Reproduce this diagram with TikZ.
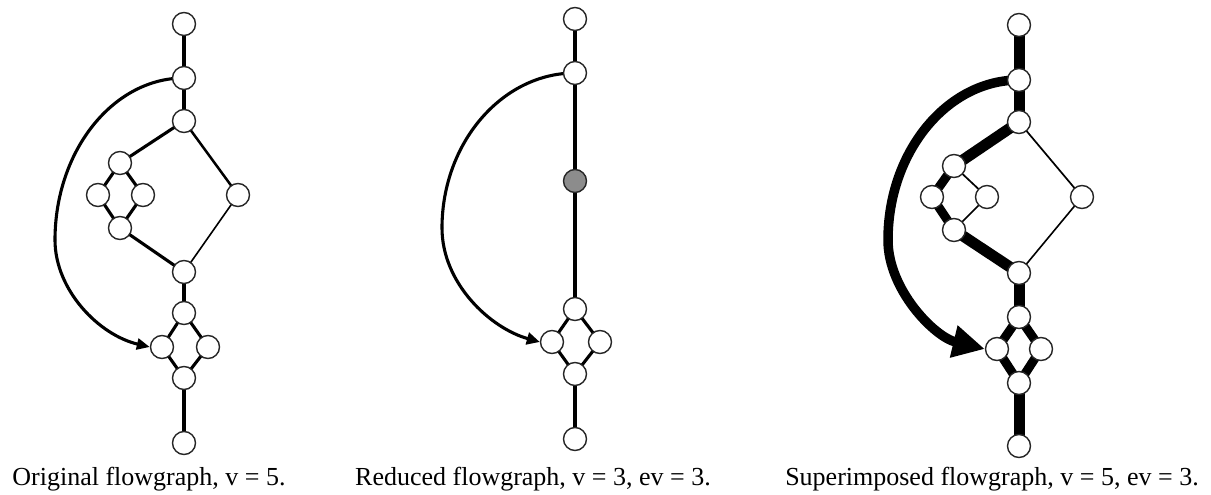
\documentclass[tikz,border=0pt]{standalone}
\usepackage{fontspec}
\setmainfont{Liberation Serif}
\usetikzlibrary{arrows.meta,backgrounds}
\begin{document}
\begin{tikzpicture}[x=1pt,y=-1pt,
  vtx/.style={circle,draw=black!85,fill=white,line width=1.4pt,minimum size=23pt,inner sep=0pt},
  gvtx/.style={vtx,fill=black!45},
  wA/.style={line width=4.3pt},
  wB/.style={line width=3.1pt},
  wC/.style={line width=2.5pt},
  wD/.style={line width=1.6pt},
  wX/.style={line width=11pt},
  wY/.style={line width=9pt},
  wT/.style={line width=1.7pt},
  captext/.style={font=\fontsize{26}{30}\selectfont,anchor=base,inner sep=0pt}]
\useasboundingbox (0,0) rectangle (1211,495);
% ---------- graph 1
\node[vtx] (n1) at (184,24) {};
\node[vtx] (n2) at (184,78) {};
\node[vtx] (n3) at (184,121) {};
\node[vtx] (n4) at (120,163) {};
\node[vtx] (n5) at (98,195) {};
\node[vtx] (n6) at (143,195) {};
\node[vtx] (n7) at (120,228) {};
\node[vtx] (n8) at (238,195) {};
\node[vtx] (n9) at (184,272) {};
\node[vtx] (n10) at (184,313) {};
\node[vtx] (n11) at (162,347) {};
\node[vtx] (n12) at (208,347) {};
\node[vtx] (n13) at (184,378) {};
\node[vtx] (n14) at (184,443) {};
\coordinate (l1) at (55,240);
% ---------- graph 2
\node[vtx] (m1) at (575,19) {};
\node[vtx] (m2) at (575,73) {};
\node[gvtx] (m3) at (575,181) {};
\node[vtx] (m4) at (575,309) {};
\node[vtx] (m5) at (552,342) {};
\node[vtx] (m6) at (600,342) {};
\node[vtx] (m7) at (575,374) {};
\node[vtx] (m8) at (575,439) {};
\coordinate (l2) at (442,228);
% ---------- graph 3
\node[vtx] (p1) at (1019,25) {};
\node[vtx] (p2) at (1019,80) {};
\node[vtx] (p3) at (1019,122) {};
\node[vtx] (p4) at (954,166) {};
\node[vtx] (p5) at (932,197) {};
\node[vtx] (p6) at (987,197) {};
\node[vtx] (p7) at (954,230) {};
\node[vtx] (p8) at (1082,197) {};
\node[vtx] (p9) at (1019,273) {};
\node[vtx] (p10) at (1019,317) {};
\node[vtx] (p11) at (997,349) {};
\node[vtx] (p12) at (1041,349) {};
\node[vtx] (p13) at (1019,383) {};
\node[vtx] (p14) at (1019,446) {};
\coordinate (l3) at (888,240);
\begin{pgfonlayer}{background}
% graph 1 edges
\draw[wA] (n1.center) -- (n2.center);
\draw[wA] (n2.center) -- (n3.center);
\draw[wB] (n3.center) -- (n4.center);
\draw[wB] (n4.center) -- (n5.center);
\draw[wB] (n4.center) -- (n6.center);
\draw[wB] (n5.center) -- (n7.center);
\draw[wB] (n6.center) -- (n7.center);
\draw[wB] (n7.center) -- (n9.center);
\draw[wC] (n3.center) -- (n8.center);
\draw[wD] (n8.center) -- (n9.center);
\draw[wA] (n9.center) -- (n10.center);
\draw[wB] (n10.center) -- (n11.center);
\draw[wB] (n10.center) -- (n12.center);
\draw[wB] (n11.center) -- (n13.center);
\draw[wB] (n12.center) -- (n13.center);
\draw[wA] (n13.center) -- (n14.center);
\draw[wB] (n2.center) .. controls +(-71,0) and +(0,-89) .. (l1);
% graph 2 edges
\draw[wB] (m1.center) -- (m2.center);
\draw[wB] (m2.center) -- (m3.center);
\draw[wB] (m3.center) -- (m4.center);
\draw[wB] (m4.center) -- (m5.center);
\draw[wB] (m4.center) -- (m6.center);
\draw[wB] (m5.center) -- (m7.center);
\draw[wB] (m6.center) -- (m7.center);
\draw[wB] (m7.center) -- (m8.center);
\draw[wB] (m2.center) .. controls +(-73,0) and +(0,-85) .. (l2);
% graph 3 edges
\draw[wX] (p1.center) -- (p2.center);
\draw[wX] (p2.center) -- (p3.center);
\draw[wX] (p3.center) -- (p4.center);
\draw[wY] (p4.center) -- (p5.center);
\draw[wT] (p4.center) -- (p6.center);
\draw[wY] (p5.center) -- (p7.center);
\draw[wT] (p6.center) -- (p7.center);
\draw[wX] (p7.center) -- (p9.center);
\draw[wT] (p3.center) -- (p8.center);
\draw[wD] (p8.center) -- (p9.center);
\draw[wX] (p9.center) -- (p10.center);
\draw[wY] (p10.center) -- (p11.center);
\draw[wY] (p10.center) -- (p12.center);
\draw[wY] (p11.center) -- (p13.center);
\draw[wY] (p12.center) -- (p13.center);
\draw[wX] (p13.center) -- (p14.center);
\draw[line width=9.5pt] (p2.center) .. controls +(-72,0) and +(0,-88) .. (l3);
\end{pgfonlayer}
% arrow parts of curves
\draw[wB,-{Triangle[length=13pt,width=11pt]}] (l1) .. controls +(0,50) and +(-51,-12) .. (n11.west);
\draw[wB,-{Triangle[length=13pt,width=12pt]}] (l2) .. controls +(0,55) and +(-50,-14) .. (m5.west);
\draw[line width=9.5pt,-{Triangle[length=32pt,width=31pt]}] (l3) .. controls +(0,50) and +(-50,-12) .. (p11.west);
% captions
\node[captext] (c1) at (149,485) {Original flowgraph, v = 5.};
\node[captext] (c2) at (533,485) {Reduced flowgraph, v = 3, ev = 3.};
\node[captext] (c3) at (992,485) {Superimposed flowgraph, v = 5, ev = 3.};
\end{tikzpicture}
\end{document}
